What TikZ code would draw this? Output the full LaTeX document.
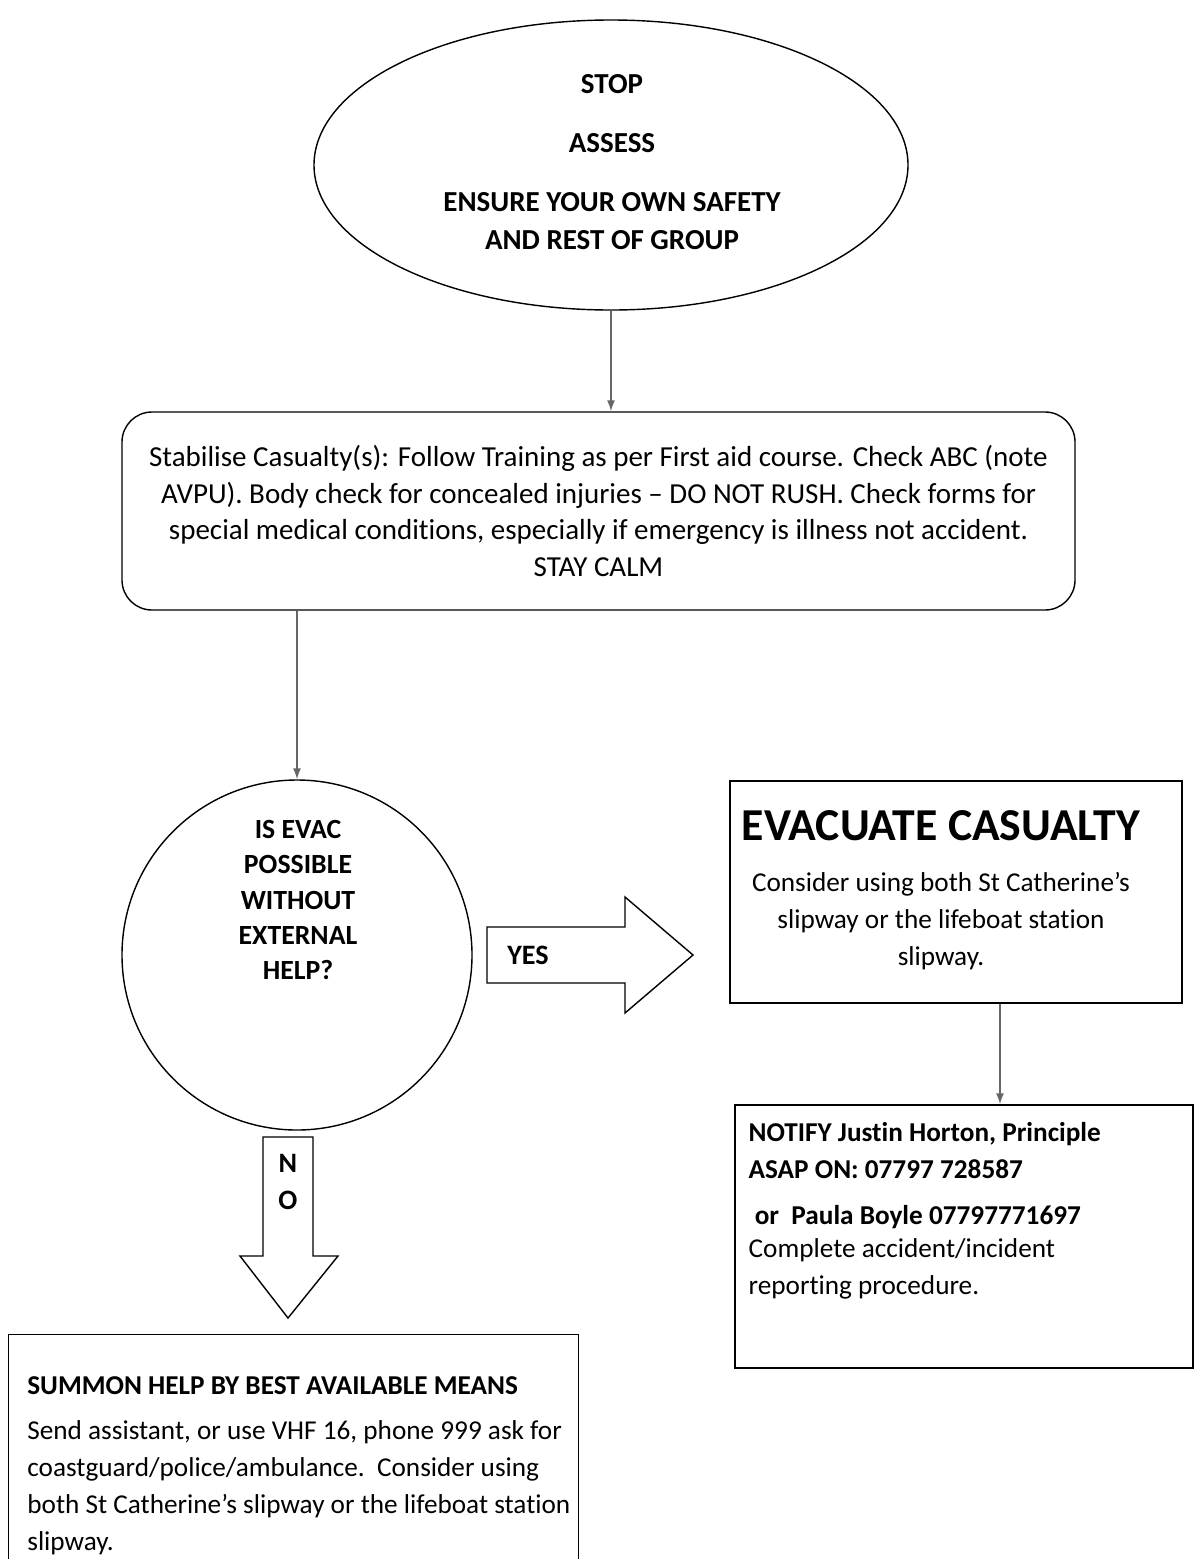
\documentclass[tikz,border=0pt]{standalone}
\usepackage{fontspec}
\setmainfont[Ligatures={TeX,NoCommon}]{Carlito}
\usetikzlibrary{shapes.geometric, arrows.meta, positioning}

\begin{document}
\begin{tikzpicture}[
    x=0.2mm, y=-0.2mm,
    every node/.style={align=center, font=\fontsize{15.5}{21}\selectfont},
    shape line/.style={draw, line width=0.8pt},
    boxstyle/.style={shape line, rectangle, inner sep=0pt},
    textblock/.style={inner sep=0pt},
    conn/.style={draw, line width=0.9pt, black!60, -{Latex[length=2.2mm, width=1.6mm]}},
    blockarrow/.style={draw, line width=0.8pt, fill=white},
]
\useasboundingbox (0,0) rectangle (1195,1559);

% top of the chart
\node[shape line, ellipse, minimum width=11.88cm, minimum height=5.8cm] (safety) at (611,165) {};
\node[textblock, font=\bfseries\fontsize{16.5}{21.6}\selectfont] (safetytxt) at (612,162)
    {STOP\\[12pt] ASSESS\\[12pt] ENSURE YOUR OWN SAFETY\\ AND REST OF GROUP};

\node[shape line, rounded corners=0.6cm, minimum width=19.06cm, minimum height=3.96cm,
      font=\fontsize{16.5}{21}\selectfont] (stabilise) at (598.5,511)
    {Stabilise Casualty(s): Follow Training as per First aid course. Check ABC (note\\
     AVPU). Body check for concealed injuries -- DO NOT RUSH. Check forms for\\
     special medical conditions, especially if emergency is illness not accident.\\
     STAY CALM};

% decision
\node[shape line, circle, minimum size=7cm] (possible) at (297,955) {};
\node[textblock, font=\bfseries\fontsize{15.8}{20}\selectfont] (possibletxt) at (298,900)
    {IS EVAC\\ POSSIBLE\\ WITHOUT\\ EXTERNAL\\ HELP?};

% yes branch
\node[boxstyle, minimum width=9.04cm, minimum height=4.44cm] (evacuate) at (956,892) {};
\node[textblock] (evacuatetxt) at (941,890)
    {{\bfseries\fontsize{26}{30}\selectfont EVACUATE CASUALTY}\\[8pt]
     \fontsize{15.5}{22.4}\selectfont Consider using both St Catherine’s\\
     slipway or the lifeboat station\\ slipway.};

\node[boxstyle, minimum width=9.16cm, minimum height=5.26cm] (notify) at (964,1236.5) {};
\node[textblock, anchor=north west, align=left] (notifytxt) at ([xshift=0.28cm, yshift=-0.36cm]notify.north west)
    {\bfseries NOTIFY Justin Horton, Principle\\ \bfseries ASAP ON: 07797 728587\\[5pt]
     \bfseries \ or\ \ Paula Boyle 07797771697\\[-2pt]
     Complete accident/incident\\ reporting procedure.};

% no branch
\node[boxstyle, minimum width=11.4cm, minimum height=5.4cm, anchor=north west] (summon) at (8,1334) {};
\node[textblock, anchor=north west, align=left] (summontxt) at ([xshift=0.38cm, yshift=-0.84cm]summon.north west)
    {\bfseries SUMMON HELP BY BEST AVAILABLE MEANS\\[5pt]
     Send assistant, or use VHF 16, phone 999 ask for\\
     coastguard/police/ambulance.\ \ Consider using\\
     both St Catherine’s slipway or the lifeboat station\\
     slipway.};

% block arrows
\draw[blockarrow] (487,927) -- (625,927) -- (625,897) -- (693,955) -- (625,1013) -- (625,983) -- (487,983) -- cycle;
\node[textblock, font=\bfseries\fontsize{16}{21}\selectfont] (yes) at (528,955) {YES};

\draw[blockarrow] (263,1137) -- (313,1137) -- (313,1256) -- (338,1256) -- (288,1318) -- (240,1256) -- (263,1256) -- cycle;
\node[textblock, font=\bfseries\fontsize{16}{21}\selectfont] (no) at (288,1182) {N\\O};

% connectors
\draw[conn] (safety.south) -- (safety.south |- stabilise.north);
\draw[conn] (possible.north |- stabilise.south) -- (possible.north);
\draw[conn] ([xshift=0.88cm]evacuate.south) -- ([xshift=0.88cm]evacuate.south |- notify.north);

\end{tikzpicture}
\end{document}
